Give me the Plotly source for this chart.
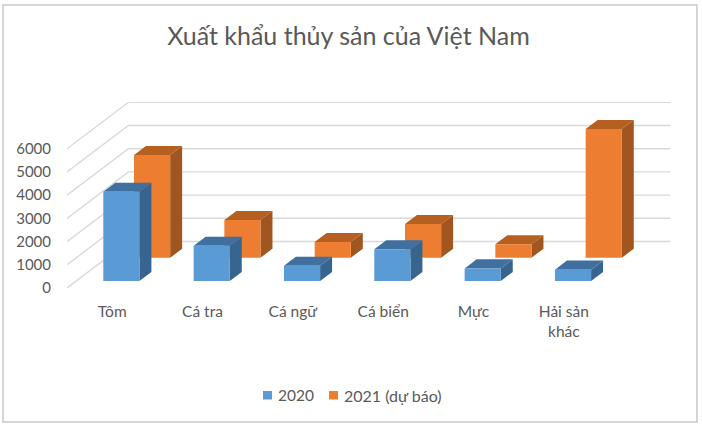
import plotly.graph_objects as go

categories = ['Tôm', 'Cá tra', 'Cá ngữ', 'Cá biển', 'Mực', 'Hải sản<br>khác']
values_2020 = [3850, 1520, 660, 1365, 545, 490]
values_2021 = [4425, 1625, 677, 1453, 578, 5547]
value_ticks = [0, 1000, 2000, 3000, 4000, 5000, 6000]

FONT = 'Lato'
GREY = '#595959'
W, H = 702, 426
L, R, T, B = 67, 671, 102, 288

# oblique projection of the 3d chart onto the 2d axes
DEPTH_X = 0.68
DEPTH_Y = 2005
BAR_WIDTH = 0.4


def project(x, v, depth):
    return x + depth * DEPTH_X, v + depth * DEPTH_Y


def polygon(points):
    xs = [p[0] for p in points] + [points[0][0], None]
    ys = [p[1] for p in points] + [points[0][1], None]
    return xs, ys


def bar_faces(values, d0, d1):
    front, side, top = ([], []), ([], []), ([], [])
    for i, v in enumerate(values):
        x0 = i + 0.5 - BAR_WIDTH / 2
        x1 = i + 0.5 + BAR_WIDTH / 2
        faces = [
            (front, [project(x0, 0, d0), project(x1, 0, d0), project(x1, v, d0), project(x0, v, d0)]),
            (side, [project(x1, 0, d0), project(x1, 0, d1), project(x1, v, d1), project(x1, v, d0)]),
            (top, [project(x0, v, d0), project(x1, v, d0), project(x1, v, d1), project(x0, v, d1)]),
        ]
        for target, pts in faces:
            xs, ys = polygon(pts)
            target[0].extend(xs)
            target[1].extend(ys)
    return front, side, top


def add_series(fig, name, values, d0, d1, colors):
    front, side, top = bar_faces(values, d0, d1)
    for face, color in zip((side, top, front), colors):
        fig.add_trace(go.Scatter(
            x=face[0], y=face[1], name=name, mode='lines', fill='toself',
            fillcolor=color, line=dict(width=0, color=color),
            hoverinfo='skip', showlegend=False))


def paper_x(px):
    return (px - L) / (R - L)


def paper_y(py):
    return (B - py) / (B - T)


fig = go.Figure()

# walls
for v in value_ticks:
    a = project(0, v, 0)
    b = project(0, v, 1)
    c = project(6, v, 1)
    fig.add_trace(go.Scatter(
        x=[a[0], b[0], c[0]], y=[a[1], b[1], c[1]], mode='lines',
        line=dict(color='#d9d9d9', width=1.4), hoverinfo='skip', showlegend=False))

# back series goes first so that the front one covers it
add_series(fig, '2021 (dự báo)', values_2021, 0.65, 0.845, ['#a0561e', '#b55f20', '#ed7d31'])
add_series(fig, '2020', values_2020, 0.15, 0.345, ['#38658f', '#3f70a0', '#5b9bd5'])

shapes = [
    dict(type='rect', xref='paper', yref='paper', x0=paper_x(263), x1=paper_x(272),
         y0=paper_y(391), y1=paper_y(399.5), fillcolor='#5b9bd5', line_width=0),
    dict(type='rect', xref='paper', yref='paper', x0=paper_x(329), x1=paper_x(338),
         y0=paper_y(391), y1=paper_y(399.5), fillcolor='#ed7d31', line_width=0),
    # chart frame
    dict(type='rect', xref='paper', yref='paper', x0=paper_x(3), x1=paper_x(697),
         y0=paper_y(422), y1=paper_y(5), line=dict(color='#c8c8c8', width=1.5)),
]

fig.update_layout(
    width=W, height=H,
    autosize=False,
    margin=dict(l=L, r=W - R, t=T, b=H - B, pad=0, autoexpand=False),
    paper_bgcolor='white',
    plot_bgcolor='white',
    showlegend=False,
    font=dict(family=FONT, color=GREY, size=15),
    title=dict(text='Xuất khẩu thủy sản của Việt Nam', x=348.5 / W, xref='container',
               xanchor='center', y=1 - 36 / H, yanchor='middle',
               font=dict(family=FONT, size=25, color=GREY)),
    xaxis=dict(range=[0, (R - L) / 90.33], tickvals=[i + 0.5 for i in range(6)], ticktext=categories,
               showgrid=False, showline=False, zeroline=False, ticks='',
               ticklabelstandoff=12, tickangle=0, tickfont=dict(size=15.5, color=GREY), fixedrange=True),
    yaxis=dict(range=[0, (B - T) / 23.2 * 1000], tickvals=value_ticks, showgrid=False,
               showline=False, zeroline=False, ticks='', ticklabelstandoff=15,
               tickfont=dict(size=15, color=GREY), fixedrange=True),
    shapes=shapes,
    annotations=[
        dict(text='2020', xref='paper', yref='paper', x=paper_x(276), y=paper_y(395),
             xanchor='left', yanchor='middle', showarrow=False, font=dict(size=15.5, color=GREY)),
        dict(text='2021 (dự báo)', xref='paper', yref='paper', x=paper_x(342), y=paper_y(395),
             xanchor='left', yanchor='middle', showarrow=False, font=dict(size=16, color=GREY)),
    ],
)

# the page is photographed at exactly the figure size
fig.write_html('out.html', config={'displayModeBar': False}, post_script="document.body.style.margin='0';")
